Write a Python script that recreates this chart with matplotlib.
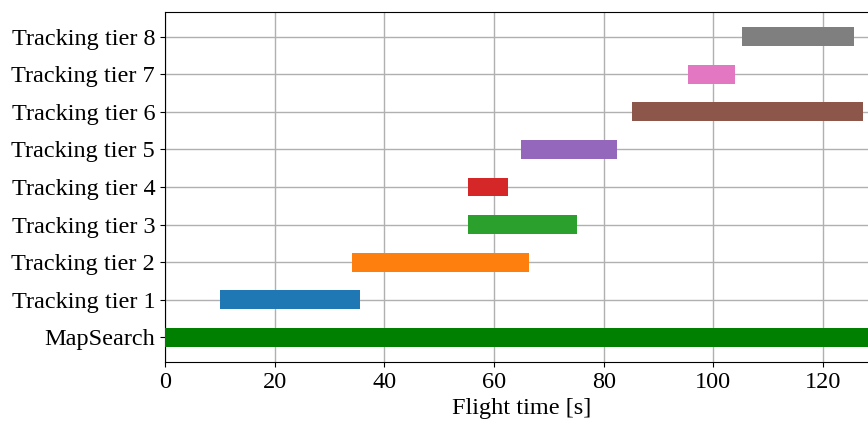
import matplotlib
matplotlib.use("Agg")
import matplotlib.pyplot as plt

plt.rcParams['font.family'] = ['Liberation Serif', 'DejaVu Serif']

labels = ["MapSearch", "Tracking tier 1", "Tracking tier 2", "Tracking tier 3",
          "Tracking tier 4", "Tracking tier 5", "Tracking tier 6",
          "Tracking tier 7", "Tracking tier 8"]
starts = [0.0, 10.0, 34.1, 55.2, 55.2, 65.0, 85.2, 95.3, 105.3]
ends = [130.0, 35.5, 66.3, 75.2, 62.5, 82.5, 127.3, 104.0, 125.7]
colors = ["green", "C0", "C1", "C2", "C3", "C4", "C5", "C6", "C7"]

fig = plt.figure(figsize=(8.68, 4.25), dpi=100)
ax = fig.add_axes([0.19, 0.148, 0.8214, 0.824])
for i, (s, e, c) in enumerate(zip(starts, ends, colors)):
    ax.broken_barh([(s, e - s)], (i - 0.25, 0.5), facecolors=c, zorder=3)

ax.set_yticks(range(len(labels)))
ax.set_yticklabels(labels)
ax.set_xlim(0, 130)
ax.set_ylim(-0.66, len(labels) - 1 + 0.66)
ax.grid(True, color="#b0b0b0", linewidth=1.0, zorder=0)
ax.set_axisbelow(True)
ax.set_xlabel("Flight time [s]", fontsize=17.5)
ax.tick_params(labelsize=17.5)
fig.savefig("out.png", dpi=100)
